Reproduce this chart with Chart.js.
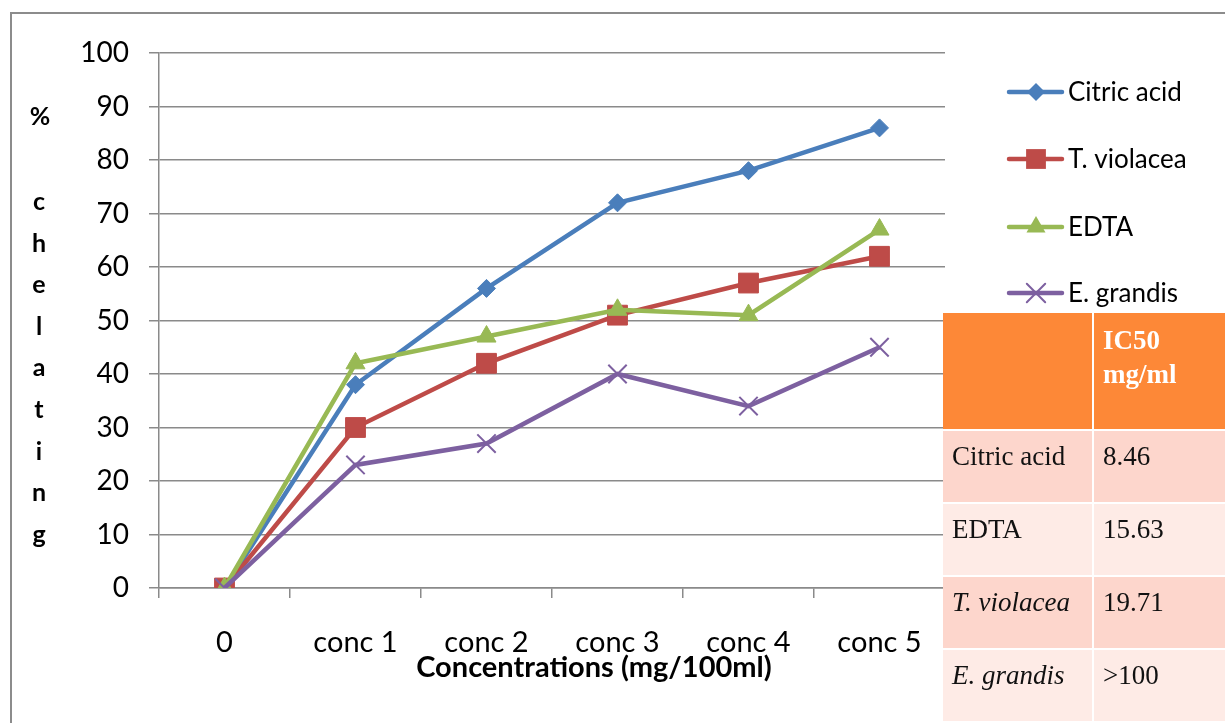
<!DOCTYPE html>
<html>
<head>
<meta charset="utf-8">
<title>% chelating</title>
<script src="https://cdn.jsdelivr.net/npm/chart.js@4/dist/chart.umd.min.js"></script>
<style>
    html, body { margin: 0; padding: 0; background: #fff; }
    #wrap { position: relative; width: 1225px; height: 723px; overflow: hidden; }
    #frame {
        position: absolute; left: 10px; top: 12px; right: -10px; bottom: -10px;
        border: 2px solid #8c8c8c; box-sizing: border-box;
    }
    canvas { position: absolute; left: 0; top: 0; }
    #ic50 {
        position: absolute; left: 943px; top: 313px; width: 284px;
        border-collapse: separate; border-spacing: 0;
        font-family: "Liberation Serif", "DejaVu Serif", serif; font-size: 27px; color: #111;
    }
    #ic50 td, #ic50 th {
        vertical-align: top; text-align: left; padding: 10px 0 0 9px;
        border-right: 2px solid #fff; border-bottom: 2px solid #fff;
        box-sizing: border-box;
    }
    #ic50 th {
        background: #fd8837; color: #fff; font-weight: bold; height: 118px;
        line-height: 34px; padding-top: 10px;
    }
    #ic50 td { height: 73px; }
    #ic50 tr.odd td { background: #fdd6cc; }
    #ic50 tr.even td { background: #feebe6; }
    #ic50 td:first-child, #ic50 th:first-child { width: 151px; }
    #ic50 i { font-style: italic; }
</style>
</head>
<body>
<div id="wrap">
    <div id="frame"></div>
    <canvas id="chelChart" width="1225" height="723"></canvas>
    <table id="ic50">
        <thead>
            <tr><th></th><th id="ic50Head"></th></tr>
        </thead>
        <tbody id="ic50Body"></tbody>
    </table>
</div>
<script>
(() => {
    "use strict";

    // ====== Data ======
    const CATEGORIES = ["0", "conc 1", "conc 2", "conc 3", "conc 4", "conc 5"];
    const Y_TICKS = [0, 10, 20, 30, 40, 50, 60, 70, 80, 90, 100];

    const CITRIC_ACID = [0, 38, 56, 72, 78, 86];
    const T_VIOLACEA = [0, 30, 42, 51, 57, 62];
    const EDTA = [0, 42, 47, 52, 51, 67];
    const E_GRANDIS = [0, 23, 27, 40, 34, 45];

    const TABLE_HEADER = ["IC50", "mg/ml"];
    const TABLE_NAMES = ["Citric acid", "EDTA", "T. violacea", "E. grandis"];
    const TABLE_ITALIC = [false, false, true, true];
    const TABLE_VALUES = ["8.46", "15.63", "19.71", ">100"];

    const Y_TITLE = ["%", "c", "h", "e", "l", "a", "t", "i", "n", "g"];
    const X_TITLE = "Concentrations (mg/100ml)";

    // ====== Styles ======
    const GRID = "#8a8a8a";
    const FONT = "Lato, 'Open Sans', sans-serif";

    const series = [
        { label: "Citric acid", data: CITRIC_ACID, color: "#4a7ebb", style: "rectRot", radius: 9, order: 3 },
        { label: "T. violacea", data: T_VIOLACEA, color: "#be4b48", style: "rect", radius: 14, order: 2 },
        { label: "EDTA", data: EDTA, color: "#98b954", style: "triangle", radius: 11, order: 1 },
        { label: "E. grandis", data: E_GRANDIS, color: "#7d60a0", style: "crossRot", radius: 13, order: 0 }
    ];

    // ====== Table ======
    document.getElementById("ic50Head").innerHTML = TABLE_HEADER.join("<br>");
    const body = document.getElementById("ic50Body");
    TABLE_NAMES.forEach((name, i) => {
        const tr = document.createElement("tr");
        tr.className = i % 2 === 0 ? "odd" : "even";
        const n = document.createElement("td");
        if (TABLE_ITALIC[i]) {
            const it = document.createElement("i");
            it.textContent = name;
            n.appendChild(it);
        } else {
            n.textContent = name;
        }
        const v = document.createElement("td");
        v.textContent = TABLE_VALUES[i];
        tr.appendChild(n);
        tr.appendChild(v);
        body.appendChild(tr);
    });

    // ====== Extra drawing (axis titles, legend) ======
    function drawMarker(ctx, style, x, y, r, color) {
        ctx.save();
        ctx.fillStyle = color;
        ctx.strokeStyle = color;
        ctx.beginPath();
        if (style === "rectRot") {
            ctx.moveTo(x, y - r); ctx.lineTo(x + r, y); ctx.lineTo(x, y + r); ctx.lineTo(x - r, y);
            ctx.closePath(); ctx.fill();
        } else if (style === "rect") {
            const s = r * Math.SQRT1_2;
            ctx.rect(x - s, y - s, 2 * s, 2 * s); ctx.fill();
        } else if (style === "triangle") {
            ctx.moveTo(x, y - r);
            ctx.lineTo(x + r * Math.sin(Math.PI / 3), y + r / 2);
            ctx.lineTo(x - r * Math.sin(Math.PI / 3), y + r / 2);
            ctx.closePath(); ctx.fill();
        } else {
            const d = r * Math.SQRT1_2;
            ctx.lineWidth = 2;
            ctx.moveTo(x - d, y - d); ctx.lineTo(x + d, y + d);
            ctx.moveTo(x + d, y - d); ctx.lineTo(x - d, y + d);
            ctx.stroke();
        }
        ctx.restore();
    }

    const extras = {
        id: "extras",
        afterDraw(chart) {
            const ctx = chart.ctx;
            ctx.save();
            ctx.fillStyle = "#000";
            ctx.textAlign = "center";
            ctx.textBaseline = "middle";

            // y title, one letter per row
            ctx.font = "bold 25px " + FONT;
            ctx.fillText(Y_TITLE[0], 40, 117);
            for (let i = 1; i < Y_TITLE.length; i++) {
                ctx.fillText(Y_TITLE[i], 39, 202 + (i - 1) * 41.6);
            }

            // x title
            ctx.font = "bold 29px " + FONT;
            ctx.fillText(X_TITLE, 594, 668);

            // legend
            ctx.font = "26px " + FONT;
            ctx.textAlign = "left";
            const ys = [92, 159, 227, 293];
            series.forEach((s, i) => {
                const y = ys[i];
                ctx.strokeStyle = s.color;
                ctx.lineWidth = 4.5;
                ctx.lineCap = "round";
                ctx.beginPath();
                ctx.moveTo(1009, y);
                ctx.lineTo(1062, y);
                ctx.stroke();
                drawMarker(ctx, s.style, 1036, y, s.radius, s.color);
                ctx.fillStyle = "#000";
                ctx.fillText(s.label, 1068, y + 1);
            });
            ctx.restore();
        }
    };

    // ====== Chart ======
    new Chart(document.getElementById("chelChart").getContext("2d"), {
        type: "line",
        data: {
            labels: CATEGORIES,
            datasets: series.map((s) => ({
                label: s.label,
                data: s.data,
                borderColor: s.color,
                backgroundColor: s.color,
                pointBackgroundColor: s.color,
                pointBorderColor: s.color,
                pointStyle: s.style,
                pointRadius: s.radius,
                pointBorderWidth: s.style === "crossRot" ? 2 : 1,
                borderWidth: 4.5,
                tension: 0,
                fill: false,
                order: s.order
            }))
        },
        options: {
            responsive: false,
            animation: false,
            devicePixelRatio: 1,
            layout: { padding: { left: 0, top: 53, right: 280, bottom: 0 } },
            plugins: {
                legend: { display: false },
                tooltip: { enabled: false }
            },
            scales: {
                x: {
                    type: "category",
                    offset: true,
                    grid: {
                        offset: true,
                        drawOnChartArea: false,
                        drawTicks: true,
                        tickLength: 10,
                        color: GRID,
                        lineWidth: 1.5
                    },
                    border: { color: GRID, width: 1.5 },
                    ticks: {
                        color: "#000",
                        font: { family: FONT, size: 29 },
                        padding: 27,
                        maxRotation: 0,
                        autoSkip: false
                    },
                    afterFit(scale) { scale.height = 135; }
                },
                y: {
                    min: 0,
                    max: 100,
                    afterBuildTicks(scale) {
                        scale.ticks = Y_TICKS.map((v) => ({ value: v }));
                    },
                    grid: {
                        color: GRID,
                        lineWidth: 1.5,
                        tickLength: 10
                    },
                    border: { color: GRID, width: 1.5 },
                    ticks: {
                        color: "#000",
                        font: { family: FONT, size: 28 },
                        padding: 20
                    },
                    afterFit(scale) { scale.width = 159; }
                }
            }
        },
        plugins: [extras]
    });
})();
</script>
</body>
</html>
